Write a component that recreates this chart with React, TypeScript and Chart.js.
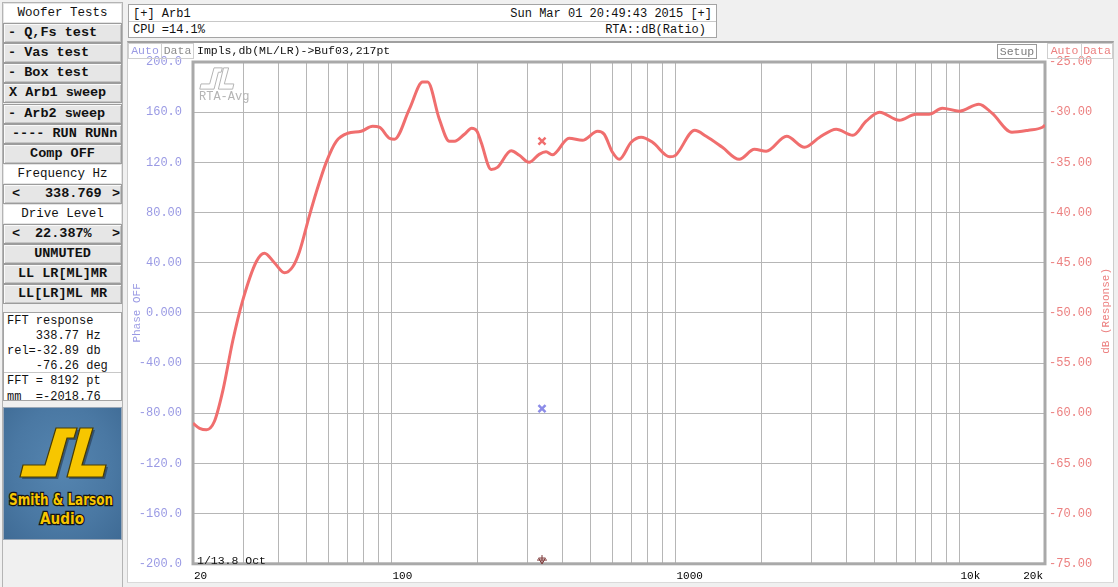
import React, { useEffect, useRef } from 'react';
import { Chart, registerables } from 'chart.js';
import type { ChartConfiguration, Plugin } from 'chart.js';

Chart.register(...registerables);

const MONO = '"Liberation Mono", "Courier New", monospace';

// response curve (Hz / dB)
const freqHz = [
  20, 21.1, 22.3, 23.8, 25.5, 27.6, 29.9, 33.4, 35.7, 38.7, 42, 44.9, 47.4, 51.4, 54.3, 58.9,
  63.9, 70.1, 78.2, 85.8, 90.6, 98.3, 102.4, 115.6, 128.7, 134, 147.4, 159.9, 166.6, 180.6,
  191.6, 200, 206.8, 224.4, 236, 263.9, 281.9, 305, 331, 350, 368, 422, 470, 532, 561, 600,
  634, 698, 757, 830, 955, 1000, 1168, 1282, 1462, 1676, 1897, 2085, 2462, 2848, 3218, 3680,
  4210, 4690, 5225, 6140, 7020, 7820, 8700, 10000, 11700, 13020, 15300, 17500, 19600, 20000,
];
const responseDb = [
  -61.0, -61.5, -61.65, -60.8, -57.7, -52.8, -48.8, -44.9, -44.05, -45.0, -46.0, -45.4, -43.9,
  -40.3, -38.0, -35.0, -32.9, -32.1, -31.9, -31.4, -31.5, -32.6, -32.7, -29.7, -27.0, -27.0,
  -30.7, -32.9, -32.9, -32.2, -31.6, -31.9, -33.0, -35.7, -35.5, -33.85, -34.3, -35.0, -34.2,
  -33.95, -34.25, -32.6, -32.8, -31.9, -32.2, -34.0, -34.7, -33.0, -32.5, -33.0, -34.45, -34.3,
  -31.8, -32.4, -33.5, -34.7, -33.7, -33.9, -32.4, -33.5, -32.5, -31.7, -32.3, -30.9, -30.0,
  -30.8, -30.2, -30.2, -29.6, -29.9, -29.2, -30.1, -32.0, -31.8, -31.5, -31.3,
];

const gridFreqs = [
  20, 30, 40, 50, 60, 70, 80, 90, 100, 200, 300, 400, 500, 600, 700, 800, 900,
  1000, 2000, 3000, 4000, 5000, 6000, 7000, 8000, 9000, 10000, 20000,
];
const xLabelFreqs = [20, 100, 1000, 10000, 20000];
const xLabelTexts = ['20', '100', '1000', '10k', '20k'];

const phaseTicks = [200, 160, 120, 80, 40, 0, -40, -80, -120, -160, -200];
const phaseTickLabels = ['200.0', '160.0', '120.0', '80.00', '40.00', '0.000', '-40.00', '-80.00', '-120.0', '-160.0', '-200.0'];
const dbTicks = [-25, -30, -35, -40, -45, -50, -55, -60, -65, -70, -75];
const dbTickLabels = ['-25.00', '-30.00', '-35.00', '-40.00', '-45.00', '-50.00', '-55.00', '-60.00', '-65.00', '-70.00', '-75.00'];

// cursor
const cursorHz = 338.769;
const cursorDb = -32.89;
const cursorPhase = -76.26;
const cursorFloor = -197;

const PHASE_COLOR = '#9a9ae4';
const DB_COLOR = '#ec8080';
const TRACE_COLOR = '#f06e6e';

const framePlugin: Plugin = {
  id: 'frame',
  beforeDatasetsDraw(chart) {
    const { ctx, chartArea: a } = chart;
    ctx.save();
    ctx.strokeStyle = '#a9a9a9';
    ctx.lineWidth = 3;
    ctx.strokeRect(a.left, a.top, a.right - a.left, a.bottom - a.top);
    ctx.restore();
  },
  afterDraw(chart) {
    const { ctx, chartArea: a } = chart;
    const xs = chart.scales.x;
    ctx.save();
    ctx.fillStyle = '#000';
    ctx.font = `11px ${MONO}`;
    ctx.textBaseline = 'middle';
    xLabelFreqs.forEach((f, i) => {
      const px = xs.getPixelForValue(f);
      const last = i === xLabelFreqs.length - 1;
      ctx.textAlign = last ? 'right' : 'left';
      ctx.fillText(xLabelTexts[i], last ? px - 2 : px + 1, a.bottom + 12);
    });
    ctx.translate(chart.width - 7, (a.top + a.bottom) / 2 - 2);
    ctx.rotate(-Math.PI / 2);
    ctx.fillStyle = DB_COLOR;
    ctx.font = `11px ${MONO}`;
    ctx.textAlign = 'center';
    ctx.fillText('dB (Response)', 0, 0);
    ctx.restore();
  },
};

function ResponseChart() {
  const canvasRef = useRef<HTMLCanvasElement>(null);

  useEffect(() => {
    if (!canvasRef.current) return;

    const config: ChartConfiguration = {
      type: 'line',
      data: {
        datasets: [
          {
            data: freqHz.map((f, i) => ({ x: f, y: responseDb[i] })),
            yAxisID: 'y2',
            borderColor: TRACE_COLOR,
            borderWidth: 3,
            pointRadius: 0,
            cubicInterpolationMode: 'monotone',
          },
          {
            type: 'scatter',
            data: [{ x: cursorHz, y: cursorDb }],
            yAxisID: 'y2',
            pointStyle: 'crossRot',
            pointRadius: 5,
            borderWidth: 2.5,
            borderColor: TRACE_COLOR,
          },
          {
            type: 'scatter',
            data: [{ x: cursorHz, y: cursorPhase }],
            yAxisID: 'y',
            pointStyle: 'crossRot',
            pointRadius: 5,
            borderWidth: 2.5,
            borderColor: '#8c8ce8',
          },
          {
            type: 'scatter',
            data: [{ x: cursorHz, y: cursorFloor }],
            yAxisID: 'y',
            pointStyle: 'cross',
            pointRadius: 5,
            borderWidth: 1,
            borderColor: '#7a3434',
          },
          {
            type: 'scatter',
            data: [{ x: cursorHz, y: cursorFloor }],
            yAxisID: 'y',
            pointStyle: 'triangle',
            rotation: 180,
            pointRadius: 4,
            borderWidth: 1,
            borderColor: '#7a3434',
            backgroundColor: 'rgba(0,0,0,0)',
          },
        ] as any,
      },
      options: {
        responsive: true,
        maintainAspectRatio: false,
        animation: false,
        events: [],
        layout: { padding: { top: 19, left: 0, right: 0, bottom: 0 } },
        plugins: { legend: { display: false }, tooltip: { enabled: false } },
        scales: {
          x: {
            type: 'logarithmic',
            min: 20,
            max: 20000,
            afterBuildTicks: (s: any) => {
              s.ticks = gridFreqs.map(v => ({ value: v }));
            },
            afterFit: (s: any) => {
              s.height = 14;
            },
            ticks: { display: false },
            grid: { color: '#b6b6b6', lineWidth: 1, drawTicks: false },
            border: { display: false },
          },
          y: {
            position: 'left',
            min: -200,
            max: 200,
            afterBuildTicks: (s: any) => {
              s.ticks = phaseTicks.map(v => ({ value: v }));
            },
            afterFit: (s: any) => {
              s.width = 65;
            },
            ticks: {
              autoSkip: false,
              padding: 11,
              color: PHASE_COLOR,
              font: { family: MONO, size: 12 },
              callback: (v: any) => phaseTickLabels[phaseTicks.indexOf(Number(v))] ?? '',
            },
            title: {
              display: true,
              text: 'Phase OFF',
              color: PHASE_COLOR,
              font: { family: MONO, size: 11 },
              padding: { top: 2, bottom: 0 },
            },
            grid: { color: '#b6b6b6', lineWidth: 1, drawTicks: false },
            border: { display: false },
          },
          y2: {
            position: 'right',
            min: -75,
            max: -25,
            afterBuildTicks: (s: any) => {
              s.ticks = dbTicks.map(v => ({ value: v }));
            },
            afterFit: (s: any) => {
              s.width = 68;
            },
            ticks: {
              autoSkip: false,
              padding: 4,
              color: DB_COLOR,
              font: { family: MONO, size: 12 },
              callback: (v: any) => dbTickLabels[dbTicks.indexOf(Number(v))] ?? '',
            },
            grid: { display: false, drawTicks: false },
            border: { display: false },
          },
        },
      } as any,
      plugins: [framePlugin],
    };

    const chart = new Chart(canvasRef.current, config);
    return () => chart.destroy();
  }, []);

  return (
    <div style={{ position: 'absolute', left: 128, top: 43, width: 985, height: 539 }}>
      <canvas ref={canvasRef} />
    </div>
  );
}

type Row = { text: string; kind: 'label' | 'btn'; align?: 'left' | 'center'; indent?: number };

const panelRows: Row[] = [
  { text: 'Woofer Tests', kind: 'label' },
  { text: '- Q,Fs test', kind: 'btn', align: 'left', indent: 4 },
  { text: '- Vas test', kind: 'btn', align: 'left', indent: 4 },
  { text: '- Box test', kind: 'btn', align: 'left', indent: 4 },
  { text: 'X Arb1 sweep', kind: 'btn', align: 'left', indent: 5 },
  { text: '- Arb2 sweep', kind: 'btn', align: 'left', indent: 4 },
  { text: '---- RUN RUNn', kind: 'btn', align: 'left', indent: 8 },
  { text: 'Comp OFF', kind: 'btn' },
  { text: 'Frequency Hz', kind: 'label' },
  { text: '', kind: 'btn' },
  { text: 'Drive Level', kind: 'label' },
  { text: '', kind: 'btn' },
  { text: 'UNMUTED', kind: 'btn' },
  { text: 'LL LR[ML]MR', kind: 'btn' },
  { text: 'LL[LR]ML MR', kind: 'btn' },
];

const spinners: Record<number, { value: string; left: number }> = {
  9: { value: '338.769', left: 41 },
  11: { value: '22.387%', left: 31 },
};

const fftLines = ['FFT response', '    338.77 Hz', 'rel=-32.89 db', '    -76.26 deg', 'FFT = 8192 pt', 'mm  =-2018.76'];

function LeftPanel() {
  return (
    <>
      <div style={{ position: 'absolute', left: 2, top: 2, width: 121, height: 590, border: '1px solid #b4b4b4', boxSizing: 'border-box' }} />
      {panelRows.map((r, i) => {
        const top = 3 + Math.round(i * 20.1);
        const isBtn = r.kind === 'btn';
        const spin = spinners[i];
        return (
          <div
            key={i}
            style={{
              position: 'absolute',
              left: 3,
              top,
              width: 119,
              height: 20,
              boxSizing: 'border-box',
              background: isBtn ? '#e6e6e6' : '#fff',
              border: isBtn ? '1px solid #9c9c9c' : '1px solid #e4e4e4',
              boxShadow: isBtn ? 'inset 1px 1px 0 #fafafa, inset -1px -1px 0 #c4c4c4' : 'none',
              fontFamily: MONO,
              fontSize: isBtn ? 13.5 : 12.5,
              fontWeight: isBtn ? 700 : 400,
              lineHeight: '18px',
              whiteSpace: 'pre',
              textAlign: r.align === 'left' ? 'left' : 'center',
              paddingLeft: r.align === 'left' ? r.indent : 0,
              color: '#111',
            }}
          >
            {spin ? (
              <>
                <span style={{ position: 'absolute', left: 8 }}>&lt;</span>
                <span style={{ position: 'absolute', left: spin.left }}>{spin.value}</span>
                <span style={{ position: 'absolute', left: 108 }}>&gt;</span>
              </>
            ) : (
              r.text
            )}
          </div>
        );
      })}
      <div
        style={{
          position: 'absolute',
          left: 3,
          top: 312,
          width: 119,
          height: 89,
          boxSizing: 'border-box',
          background: '#fff',
          border: '1px solid #a4a4a4',
          fontFamily: MONO,
          fontSize: 12,
          color: '#111',
        }}
      >
        {fftLines.map((t, i) => (
          <div
            key={i}
            style={{ position: 'absolute', left: 3, top: i < 4 ? 1 + i * 15 : 61 + (i - 4) * 15.5, lineHeight: '15px', whiteSpace: 'pre' }}
          >
            {t}
          </div>
        ))}
        <div style={{ position: 'absolute', left: 0, right: 0, top: 59, borderTop: '1px solid #c8c8c8' }} />
      </div>
      <div
        style={{
          position: 'absolute',
          left: 3,
          top: 407,
          width: 119,
          height: 133,
          background: 'radial-gradient(ellipse at 50% 45%, #5585b0 0%, #4a78a3 60%, #3f6b95 100%)',
          border: '1px solid #9aa8b8',
          boxSizing: 'border-box',
        }}
      >
        <svg width={119} height={133} style={{ position: 'absolute', left: -1, top: -1 }}>
          <g transform="translate(2,2)" fill="#1f3147" opacity={0.55}>
            <path d="M20,58 L42,58 L53,21 L74,21 L71,31 L64,31 L53,70 L17,70 Z" />
            <path d="M77,21 L90,21 L79,58 L103,58 L100,70 L64,70 Z" />
          </g>
          <g fill="#f7c600" stroke="#4a3c00" strokeWidth={1.2}>
            <path d="M20,58 L42,58 L53,21 L74,21 L71,31 L64,31 L53,70 L17,70 Z" />
            <path d="M77,21 L90,21 L79,58 L103,58 L100,70 L64,70 Z" />
          </g>
          <g
            fontFamily='"DejaVu Sans", sans-serif'
            fontWeight={700}
            fill="#f7c600"
            stroke="#141414"
            strokeWidth={2.6}
            textAnchor="middle"
            style={{ paintOrder: 'stroke' } as any}
          >
            <text x={58} y={98} fontSize={15} textLength={104} lengthAdjust="spacingAndGlyphs">
              Smith &amp; Larson
            </text>
            <text x={59} y={117} fontSize={15} textLength={44} lengthAdjust="spacingAndGlyphs">
              Audio
            </text>
          </g>
        </svg>
      </div>
    </>
  );
}

function Header() {
  const cell: React.CSSProperties = { position: 'absolute', fontFamily: MONO, fontSize: 12, lineHeight: '16px', whiteSpace: 'pre', color: '#111' };
  return (
    <div
      style={{
        position: 'absolute',
        left: 128,
        top: 4,
        width: 589,
        height: 34,
        boxSizing: 'border-box',
        background: '#fff',
        border: '1px solid #a4a4a4',
      }}
    >
      <div style={{ ...cell, left: 4, top: 1 }}>[+] Arb1</div>
      <div style={{ ...cell, right: 4, top: 1 }}>Sun Mar 01 20:49:43 2015 [+]</div>
      <div style={{ position: 'absolute', left: 0, right: 0, top: 16, borderTop: '1px solid #c8c8c8' }} />
      <div style={{ ...cell, left: 4, top: 17 }}>CPU =14.1%</div>
      <div style={{ ...cell, right: 10, top: 17 }}>RTA::dB(Ratio)</div>
    </div>
  );
}

function SmallBox(props: { left: number; width: number; text: string; color: string; top?: number; height?: number; border?: string }) {
  return (
    <div
      style={{
        position: 'absolute',
        left: props.left,
        top: props.top ?? 43,
        width: props.width,
        height: props.height ?? 16,
        boxSizing: 'border-box',
        border: props.border ?? '1px solid #cfcfcf',
        fontFamily: MONO,
        fontSize: 11.5,
        lineHeight: '14px',
        textAlign: 'center',
        color: props.color,
      }}
    >
      {props.text}
    </div>
  );
}

function ChartPanel() {
  return (
    <>
      <div
        style={{
          position: 'absolute',
          left: 127,
          top: 41,
          width: 987,
          height: 542,
          boxSizing: 'border-box',
          background: '#fff',
          borderTop: '2px solid #a0a0a0',
          borderLeft: '1px solid #cccccc',
          borderRight: '1px solid #cccccc',
          borderBottom: '1px solid #dadada',
        }}
      />
      <ResponseChart />
      <SmallBox left={128} width={34} text="Auto" color={PHASE_COLOR} />
      <SmallBox left={161} width={33} text="Data" color="#8c8c8c" />
      <div style={{ position: 'absolute', left: 197, top: 43, fontFamily: MONO, fontSize: 11.5, lineHeight: '16px', color: '#111', whiteSpace: 'pre' }}>
        Impls,db(ML/LR)-&gt;Buf03,217pt
      </div>
      <SmallBox left={997} width={40} top={44} height={15} text="Setup" color="#7c7c7c" border="1px solid #9a9a9a" />
      <SmallBox left={1047} width={35} text="Auto" color={DB_COLOR} />
      <SmallBox left={1081} width={32} text="Data" color={DB_COLOR} />
      <svg width={36} height={23} viewBox="15 19 91 53" preserveAspectRatio="none" style={{ position: 'absolute', left: 199, top: 67 }}>
        <g fill="none" stroke="#b4b4b4" strokeWidth={1} vectorEffect="non-scaling-stroke">
          <path d="M20,58 L42,58 L53,21 L74,21 L71,31 L64,31 L53,70 L17,70 Z" vectorEffect="non-scaling-stroke" />
          <path d="M77,21 L90,21 L79,58 L103,58 L100,70 L64,70 Z" vectorEffect="non-scaling-stroke" />
        </g>
      </svg>
      <div style={{ position: 'absolute', left: 199, top: 90, fontFamily: MONO, fontSize: 12, lineHeight: '14px', color: '#b4b4b4' }}>RTA-Avg</div>
      <div style={{ position: 'absolute', left: 197, top: 554, fontFamily: MONO, fontSize: 11.5, lineHeight: '14px', color: '#111', whiteSpace: 'pre' }}>
        1/13.8 Oct
      </div>
    </>
  );
}

export default function App() {
  return (
    <div
      style={{
        position: 'fixed',
        left: 0,
        top: 0,
        width: 1118,
        height: 587,
        overflow: 'hidden',
        background: '#f0f0f0',
        fontFamily: MONO,
      }}
    >
      <LeftPanel />
      <Header />
      <ChartPanel />
    </div>
  );
}
